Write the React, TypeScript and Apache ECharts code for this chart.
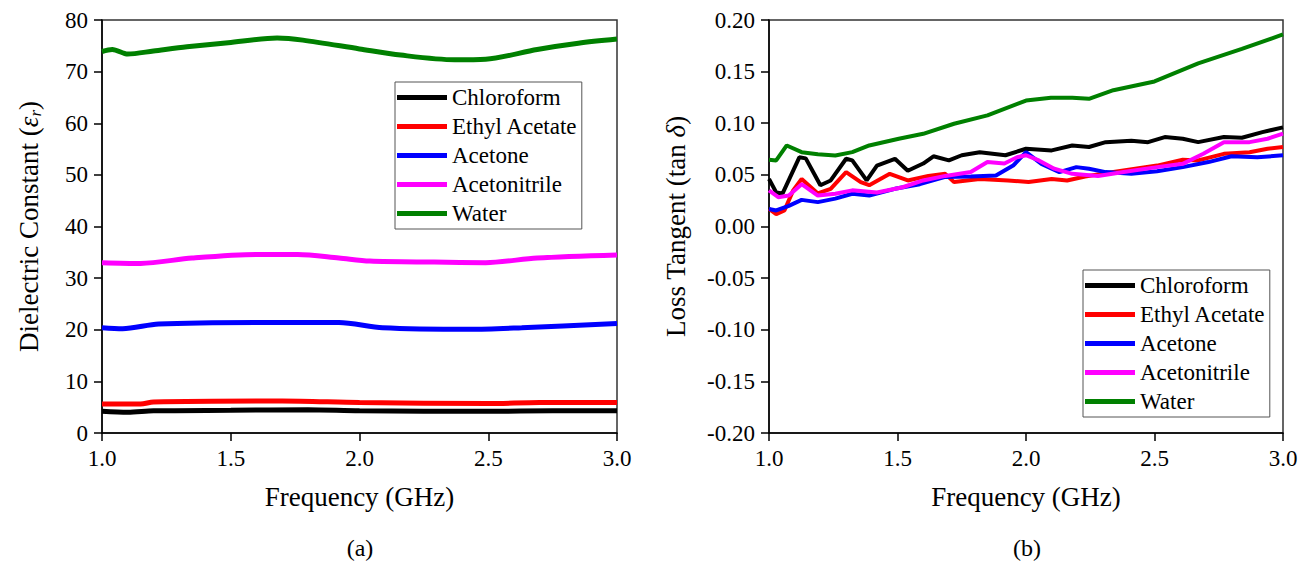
import React, { useEffect, useRef } from "react";
import * as echarts from "echarts";

const FONT = "Liberation Serif";

const seriesNames = ["Chloroform", "Ethyl Acetate", "Acetone", "Acetonitrile", "Water"];
const seriesColors = ["#000000", "#ff0000", "#0000ff", "#ff00ff", "#008000"];

const freqTicks = [1.0, 1.5, 2.0, 2.5, 3.0];

// (a) Dielectric constant  [frequency GHz, value]
const chloroformEps: [number, number][] = [[1.0, 4.2], [1.1, 4.0], [1.2, 4.3], [1.5, 4.4], [1.8, 4.5], [2.0, 4.3], [2.5, 4.2], [2.75, 4.3], [3.0, 4.3]];
const ethylAcetateEps: [number, number][] = [[1.0, 5.6], [1.15, 5.6], [1.2, 6.0], [1.7, 6.2], [2.0, 5.9], [2.5, 5.7], [2.7, 5.9], [3.0, 5.9]];
const acetoneEps: [number, number][] = [[1.0, 20.4], [1.08, 20.2], [1.22, 21.1], [1.62, 21.4], [1.92, 21.4], [2.09, 20.4], [2.43, 20.1], [2.63, 20.4], [3.0, 21.2]];
const acetonitrileEps: [number, number][] = [[1.0, 33.0], [1.15, 32.85], [1.35, 33.9], [1.6, 34.6], [1.76, 34.6], [1.92, 33.9], [2.04, 33.3], [2.29, 33.1], [2.49, 33.0], [2.69, 33.9], [3.0, 34.5]];
const waterEps: [number, number][] = [[1.0, 73.9], [1.04, 74.3], [1.1, 73.4], [1.2, 74.0], [1.33, 74.8], [1.49, 75.6], [1.68, 76.5], [1.78, 76.1], [2.0, 74.4], [2.16, 73.2], [2.37, 72.3], [2.49, 72.4], [2.69, 74.3], [2.85, 75.5], [3.0, 76.3]];

// (b) Loss tangent  [frequency GHz, value]
const chloroformTan: [number, number][] = [[1.0, 0.046], [1.028, 0.033], [1.053, 0.032], [1.118, 0.067], [1.143, 0.066], [1.2, 0.040], [1.24, 0.0446], [1.3, 0.0656], [1.324, 0.064], [1.38, 0.0446], [1.42, 0.059], [1.49, 0.0656], [1.54, 0.054], [1.6, 0.061], [1.64, 0.068], [1.7, 0.064], [1.75, 0.069], [1.82, 0.072], [1.92, 0.069], [2.0, 0.0753], [2.1, 0.0737], [2.18, 0.0785], [2.245, 0.077], [2.31, 0.0817], [2.41, 0.083], [2.475, 0.0817], [2.54, 0.0866], [2.61, 0.085], [2.67, 0.0817], [2.77, 0.0866], [2.84, 0.086], [2.92, 0.0914], [3.0, 0.096]];
const ethylAcetateTan: [number, number][] = [[1.0, 0.017], [1.028, 0.012], [1.06, 0.0155], [1.094, 0.035], [1.127, 0.046], [1.19, 0.032], [1.24, 0.0365], [1.3, 0.0527], [1.357, 0.043], [1.39, 0.040], [1.47, 0.051], [1.54, 0.0446], [1.62, 0.049], [1.686, 0.051], [1.72, 0.043], [1.82, 0.046], [1.93, 0.0446], [2.01, 0.043], [2.1, 0.046], [2.16, 0.0446], [2.23, 0.0485], [2.34, 0.0527], [2.51, 0.059], [2.61, 0.0646], [2.67, 0.064], [2.77, 0.0704], [2.87, 0.072], [2.94, 0.0753], [3.0, 0.077]];
const acetoneTan: [number, number][] = [[1.0, 0.017], [1.028, 0.0155], [1.077, 0.020], [1.127, 0.0258], [1.19, 0.0236], [1.258, 0.027], [1.324, 0.0317], [1.39, 0.030], [1.49, 0.0365], [1.587, 0.041], [1.686, 0.048], [1.785, 0.0485], [1.883, 0.0494], [1.95, 0.059], [2.0, 0.072], [2.06, 0.0607], [2.13, 0.0527], [2.196, 0.0575], [2.245, 0.056], [2.31, 0.0527], [2.41, 0.051], [2.51, 0.0536], [2.61, 0.0575], [2.71, 0.0624], [2.8, 0.068], [2.9, 0.067], [3.0, 0.069]];
const acetonitrileTan: [number, number][] = [[1.0, 0.035], [1.036, 0.0284], [1.077, 0.030], [1.127, 0.041], [1.19, 0.030], [1.258, 0.0317], [1.324, 0.035], [1.42, 0.033], [1.52, 0.038], [1.6, 0.0446], [1.686, 0.049], [1.785, 0.0527], [1.85, 0.0624], [1.916, 0.061], [1.965, 0.067], [2.0, 0.069], [2.05, 0.064], [2.11, 0.056], [2.18, 0.051], [2.28, 0.049], [2.38, 0.0527], [2.51, 0.0575], [2.61, 0.0607], [2.69, 0.0704], [2.77, 0.0817], [2.87, 0.0817], [2.94, 0.085], [3.0, 0.090]];
const waterTan: [number, number][] = [[1.0, 0.0646], [1.028, 0.064], [1.069, 0.0785], [1.127, 0.072], [1.19, 0.070], [1.258, 0.0688], [1.324, 0.072], [1.39, 0.0785], [1.505, 0.085], [1.6, 0.0898], [1.72, 0.0995], [1.85, 0.1076], [2.0, 0.122], [2.097, 0.1247], [2.18, 0.1247], [2.245, 0.1237], [2.34, 0.132], [2.5, 0.1405], [2.67, 0.158], [2.84, 0.172], [3.0, 0.186]];

const epsData = [chloroformEps, ethylAcetateEps, acetoneEps, acetonitrileEps, waterEps];
const tanData = [chloroformTan, ethylAcetateTan, acetoneTan, acetonitrileTan, waterTan];

export default function App() {
  const ref = useRef<HTMLDivElement>(null);

  useEffect(() => {
    if (!ref.current) return;
    const chart = echarts.init(ref.current, undefined, { renderer: "svg" });

    const axisCommon = {
      axisLine: { show: true, onZero: false, lineStyle: { color: "#000", width: 1.5 } },
      axisTick: { show: true, inside: false, length: 8, lineStyle: { color: "#000", width: 1.5 } },
      splitLine: { show: false },
      nameLocation: "middle" as const,
    };

    const xAxisFor = (gridIndex: number) => ({
      ...axisCommon,
      type: "value" as const,
      gridIndex,
      min: freqTicks[0],
      max: freqTicks[freqTicks.length - 1],
      interval: 0.5,
      name: "Frequency (GHz)",
      nameGap: 50,
      nameTextStyle: { fontSize: 27, color: "#000", fontFamily: FONT },
      axisLabel: { fontSize: 23, color: "#000", fontFamily: FONT, margin: 14, formatter: (v: number) => v.toFixed(1) },
    });

    const legendFor = (left: number, top: number) => ({
      orient: "vertical" as const,
      left,
      top,
      data: seriesNames,
      icon: "rect",
      itemWidth: 50,
      itemHeight: 5,
      itemGap: 6,
      padding: [4, 4, 4, 2],
      borderColor: "#555",
      borderWidth: 1,
      backgroundColor: "#fff",
      selectedMode: false,
      textStyle: { fontSize: 23, lineHeight: 23, color: "#000", fontFamily: FONT },
    });

    const series: any[] = [];
    seriesNames.forEach((name, i) => {
      series.push({
        name,
        type: "line",
        xAxisIndex: 0,
        yAxisIndex: 0,
        data: epsData[i],
        showSymbol: false,
        smooth: 0.3,
        color: seriesColors[i],
        lineStyle: { width: 5, color: seriesColors[i] },
      });
    });
    seriesNames.forEach((name, i) => {
      series.push({
        name,
        type: "line",
        xAxisIndex: 1,
        yAxisIndex: 1,
        data: tanData[i],
        showSymbol: false,
        color: seriesColors[i],
        lineStyle: { width: 4, color: seriesColors[i] },
      });
    });

    const option = {
      animation: false,
      textStyle: { fontFamily: FONT },
      grid: [
        { left: 102, top: 20, width: 515, height: 413, show: true, borderColor: "#333", borderWidth: 1.5, backgroundColor: "transparent" },
        { left: 769, top: 20, width: 514, height: 413, show: true, borderColor: "#333", borderWidth: 1.5, backgroundColor: "transparent" },
      ],
      xAxis: [xAxisFor(0), xAxisFor(1)],
      yAxis: [
        {
          ...axisCommon,
          type: "value",
          gridIndex: 0,
          min: 0,
          max: 80,
          interval: 10,
          name: "Dielectric Constant ({i|ε}{s|r})",
          nameGap: 58,
          nameTextStyle: {
            fontSize: 27,
            color: "#000",
            fontFamily: FONT,
            rich: {
              i: { fontSize: 27, fontStyle: "italic", fontFamily: FONT, color: "#000" },
              s: { fontSize: 17, fontStyle: "italic", fontFamily: FONT, color: "#000", verticalAlign: "bottom", lineHeight: 30 },
            },
          },
          axisLabel: { fontSize: 23, color: "#000", fontFamily: FONT, margin: 14 },
        },
        {
          ...axisCommon,
          type: "value",
          gridIndex: 1,
          min: -0.2,
          max: 0.2,
          interval: 0.05,
          name: "Loss Tangent (tan {i|δ})",
          nameGap: 80,
          nameTextStyle: {
            fontSize: 27,
            color: "#000",
            fontFamily: FONT,
            rich: {
              i: { fontSize: 27, fontStyle: "italic", fontFamily: FONT, color: "#000" },
            },
          },
          axisLabel: { fontSize: 23, color: "#000", fontFamily: FONT, margin: 14, formatter: (v: number) => v.toFixed(2) },
        },
      ],
      legend: [legendFor(395, 82), legendFor(1083, 270)],
      graphic: [
        { type: "text", x: 360, y: 548, style: { text: "(a)", fontSize: 24, fontFamily: FONT, fill: "#000", align: "center", verticalAlign: "middle" } },
        { type: "text", x: 1027, y: 548, style: { text: "(b)", fontSize: 24, fontFamily: FONT, fill: "#000", align: "center", verticalAlign: "middle" } },
      ],
      series,
    };

    chart.setOption(option as any);
    return () => chart.dispose();
  }, []);

  return <div ref={ref} style={{ position: "fixed", left: 0, top: 0, width: 1311, height: 561, background: "#fff" }} />;
}
